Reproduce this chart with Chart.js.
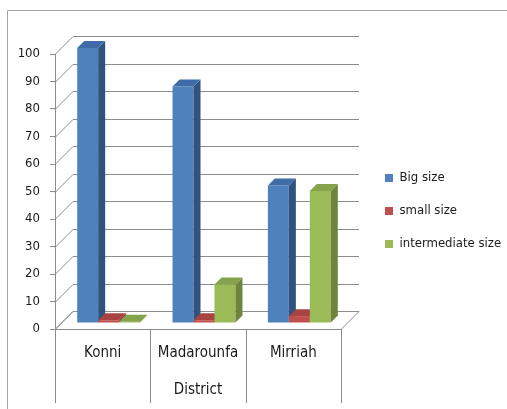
<!DOCTYPE html>
<html>
<head>
<meta charset="utf-8">
<script src="https://cdn.jsdelivr.net/npm/chart.js@4"></script>
<style>
  body { margin: 0; background: #fff; }
  #wrap { position: absolute; left: 0; top: 0; width: 507px; height: 409px; }
</style>
</head>
<body>
<div id="wrap"><canvas id="chart" width="507" height="409"></canvas></div>
<script>
const districts = ['Konni', 'Madarounfa', 'Mirriah'];
const seriesNames = ['Big size', 'small size', 'intermediate size'];
const bigSize = [100, 86, 50];
const smallSize = [1, 1, 2.5];
const intermediateSize = [0.5, 14, 48];

const frontColors = ['#4F81BD', '#C0504D', '#9BBB59'];
const sideColors = ['#2F527F', '#8A3533', '#6C853A'];
const topColors = ['#3F6CA6', '#A94341', '#85A34A'];

const FONT = "'DejaVu Sans Condensed', 'DejaVu Sans', sans-serif";
const WALL = 18;      // depth of the back wall
const SHIFT = 6;      // bars sit this far behind the front plane
const DEPTH = 7;      // bar depth
const GRID = '#8c8c8c';

// fake 3D: floor, back wall, and bars with side and top faces
const threeD = {
    id: 'threeD',
    afterLayout(chart) {
        // legend box is capped narrow by the layout, let it reach the canvas edge
        const lg = chart.legend;
        lg.right = chart.width;
        lg.width = lg.right - lg.left;
    },
    beforeDraw(chart) {
        const ctx = chart.ctx;
        ctx.save();
        ctx.strokeStyle = '#a6a6a6';
        ctx.lineWidth = 1;
        ctx.beginPath();
        ctx.moveTo(7.5, 409);
        ctx.lineTo(7.5, 10.5);
        ctx.lineTo(507, 10.5);
        ctx.stroke();
        ctx.restore();
    },
    beforeDatasetsDraw(chart) {
        const ctx = chart.ctx;
        const x = chart.scales.x, y = chart.scales.y;
        const L = x.left, R = x.right, B = y.bottom;
        ctx.save();
        ctx.lineWidth = 1;
        ctx.strokeStyle = GRID;

        // floor
        ctx.fillStyle = '#fff';
        ctx.beginPath();
        ctx.moveTo(L, B + 0.5);
        ctx.lineTo(R, B + 0.5);
        ctx.lineTo(R + WALL, B - WALL + 0.5);
        ctx.lineTo(L + WALL, B - WALL + 0.5);
        ctx.closePath();
        ctx.fill();
        ctx.stroke();

        // back wall gridlines + left wall diagonals
        y.ticks.forEach(t => {
            const py = Math.round(y.getPixelForValue(t.value)) + 0.5;
            ctx.beginPath();
            ctx.moveTo(L, py);
            ctx.lineTo(L + WALL, py - WALL);
            ctx.lineTo(R + WALL, py - WALL);
            ctx.stroke();
        });

        // category separators under the floor
        const step = (R - L) / districts.length;
        for (let i = 0; i <= districts.length; i++) {
            const px = Math.round(L + step * i) + 0.5;
            ctx.beginPath();
            ctx.moveTo(px, B);
            ctx.lineTo(px, B + 74);
            ctx.stroke();
        }

        // bars, left to right so later ones cover earlier side faces
        ctx.translate(SHIFT, -SHIFT);
        for (let i = 0; i < districts.length; i++) {
            chart.data.datasets.forEach((ds, d) => {
                const el = chart.getDatasetMeta(d).data[i];
                const p = el.getProps(['x', 'y', 'base', 'width'], true);
                const l = p.x - p.width / 2, r = p.x + p.width / 2;
                el.draw(ctx);
                ctx.fillStyle = sideColors[d];
                ctx.beginPath();
                ctx.moveTo(r, p.y);
                ctx.lineTo(r + DEPTH, p.y - DEPTH);
                ctx.lineTo(r + DEPTH, p.base - DEPTH);
                ctx.lineTo(r, p.base);
                ctx.closePath();
                ctx.fill();
                ctx.fillStyle = topColors[d];
                ctx.beginPath();
                ctx.moveTo(l, p.y);
                ctx.lineTo(l + DEPTH, p.y - DEPTH);
                ctx.lineTo(r + DEPTH, p.y - DEPTH);
                ctx.lineTo(r, p.y);
                ctx.closePath();
                ctx.fill();
            });
        }
        ctx.restore();
        return false;
    }
};

new Chart(document.getElementById('chart'), {
    type: 'bar',
    data: {
        labels: districts,
        datasets: [
            { label: seriesNames[0], data: bigSize, backgroundColor: frontColors[0] },
            { label: seriesNames[1], data: smallSize, backgroundColor: frontColors[1] },
            { label: seriesNames[2], data: intermediateSize, backgroundColor: frontColors[2] }
        ]
    },
    options: {
        responsive: false,
        animation: false,
        datasets: { bar: { categoryPercentage: 0.66, barPercentage: 1, borderWidth: 0, clip: false } },
        layout: { padding: { top: 13, left: 0, right: 69, bottom: 0 } },
        scales: {
            x: {
                grid: { display: false, drawTicks: false },
                border: { display: false },
                ticks: { color: '#1a1a1a', font: { family: FONT, size: 15 }, padding: 15 },
                title: { display: true, text: 'District', color: '#1a1a1a',
                         font: { family: FONT, size: 15 }, padding: { top: 0, bottom: 10 } },
                afterFit: s => { s.height = 80; }
            },
            y: {
                min: 0,
                max: 100,
                ticks: { stepSize: 10, padding: 10, color: '#1a1a1a', font: { family: FONT, size: 13 } },
                grid: { drawOnChartArea: false, tickLength: 5, color: GRID },
                border: { display: true, color: GRID },
                afterFit: s => { s.width = 55; }
            },
            gap: {
                type: 'linear',
                position: 'right',
                grid: { display: false, drawTicks: false },
                border: { display: false },
                ticks: { display: false },
                afterFit: s => { s.width = 24; }
            }
        },
        plugins: {
            title: { display: true, text: '', padding: 0, font: { size: 10, lineHeight: '41px' } },
            legend: {
                position: 'right',
                labels: { boxWidth: 8, boxHeight: 8, padding: 20, color: '#1a1a1a',
                          font: { family: FONT, size: 13 } }
            },
            tooltip: { enabled: false }
        }
    },
    plugins: [threeD]
});
</script>
</body>
</html>
